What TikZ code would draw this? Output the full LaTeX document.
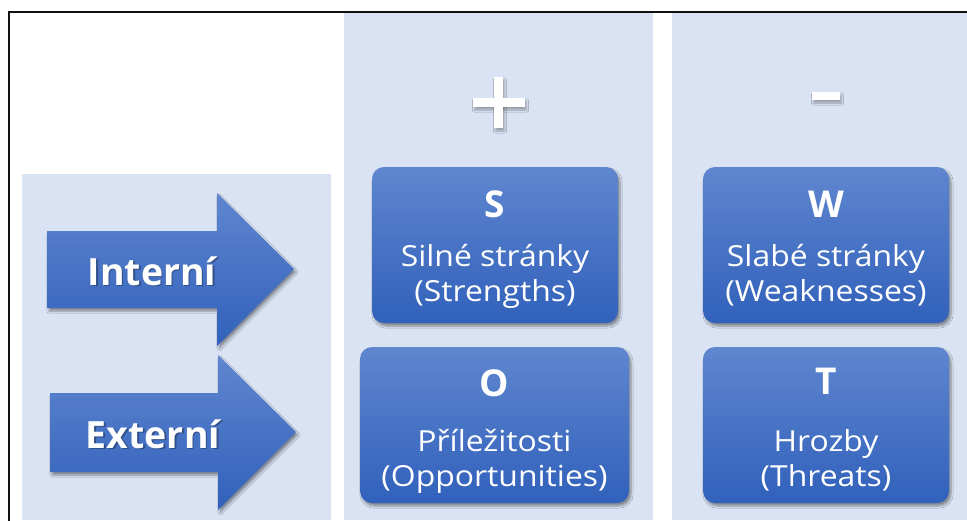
\documentclass[tikz,border=0pt]{standalone}
\usepackage{fontspec}
\setmainfont{Open Sans}
\newfontfamily\boxfont[FakeStretch=1.1]{Open Sans}
\newfontfamily\headfont{Open Sans}
\usetikzlibrary{shadows.blur}
\definecolor{bgblue}{HTML}{DAE3F3}
\definecolor{btop}{HTML}{5F86CF}
\definecolor{bbot}{HTML}{3161BB}
\definecolor{frameblack}{HTML}{111111}
\tikzset{
  panel/.style={fill=bgblue, draw=none, inner sep=0pt, outer sep=0pt},
  swotbox/.style={rounded corners=12pt, top color=btop, bottom color=bbot, draw=none,
    blur shadow={shadow xshift=2pt, shadow yshift=-3pt, shadow blur steps=6, shadow opacity=40},
    inner sep=0pt, outer sep=0pt, minimum width=246pt, minimum height=156pt},
  bigarrow/.style={top color=btop, bottom color=bbot, draw=none,
    blur shadow={shadow xshift=2pt, shadow yshift=-3pt, shadow blur steps=6, shadow opacity=40}},
  signbar/.style={fill=white, draw=none,
    blur shadow={shadow xshift=1.5pt, shadow yshift=-3pt, shadow blur steps=4, shadow opacity=30}},
  letter/.style={text=white, font=\headfont\bfseries\fontsize{37}{40}\selectfont, anchor=base, inner sep=0pt},
  boxtext/.style={text=white, font=\boxfont\fontsize{29}{31}\selectfont, anchor=base, inner sep=0pt},
  arrowtext/.style={text=white, font=\headfont\bfseries\fontsize{37.5}{40}\selectfont, anchor=base, inner sep=0pt},
  arrowshade/.style={text=black, opacity=0.3, font=\headfont\bfseries\fontsize{37.5}{40}\selectfont, anchor=base, inner sep=0pt},
}
\begin{document}
\begin{tikzpicture}[x=1pt, y=-1pt]
\useasboundingbox (0,0) rectangle (967,520);
\fill[white] (0,0) rectangle (967,520);
% panels
\node[panel, minimum width=309pt, minimum height=346pt, anchor=north west] (leftpanel) at (22,174) {};
\node[panel, minimum width=309pt, minimum height=507pt, anchor=north west] (midpanel) at (344,13) {};
\node[panel, minimum width=296pt, minimum height=507pt, anchor=north west] (rightpanel) at (672,13) {};
% frame
\draw[frameblack, line width=2pt] (9,540) -- (9,12) -- (990,12);
% plus and minus
\path[signbar] (473,98) rectangle (525,107);
\path[signbar] (494,77) rectangle (503,128);
\path[fill=white] (473,98) rectangle (525,107);
\path[signbar] (812,92) rectangle (840,100);
% arrows
\path[bigarrow] (47,231) -- (217,231) -- (217,193) -- (294,269) -- (217,346) -- (217,308) -- (47,308) -- cycle;
\path[bigarrow] (50,393) -- (218,393) -- (218,355) -- (296,432) -- (218,510) -- (218,472) -- (50,472) -- cycle;
\node[arrowshade] (intshadow) at (153.5,286.5) {Interní};
\node[arrowtext] (int) at (152,285) {Interní};
\node[arrowshade] (extshadow) at (154.5,449.5) {Externí};
\node[arrowtext] (ext) at (153,448) {Externí};
% boxes
\node[swotbox] (Sbox) at (495,245) {};
\node[swotbox] (Wbox) at (826,245) {};
\node[swotbox, minimum width=269pt] (Obox) at (494.5,425) {};
\node[swotbox] (Tbox) at (826,425) {};
% texts
\node[letter] (S) at (495,217) {S};
\node[boxtext] (S1) at (495,266) {Silné stránky};
\node[boxtext] (S2) at (495,301) {(Strengths)};
\node[letter] (W) at (826,217) {W};
\node[boxtext] (W1) at (826,266) {Slabé stránky};
\node[boxtext] (W2) at (826,301) {(Weaknesses)};
\node[letter] (O) at (494.5,396) {O};
\node[boxtext] (O1) at (494.5,451) {Příležitosti};
\node[boxtext] (O2) at (494.5,486) {(Opportunities)};
\node[letter] (T) at (826,394) {T};
\node[boxtext] (T1) at (826,451) {Hrozby};
\node[boxtext] (T2) at (826,486) {(Threats)};
\end{tikzpicture}
\end{document}
